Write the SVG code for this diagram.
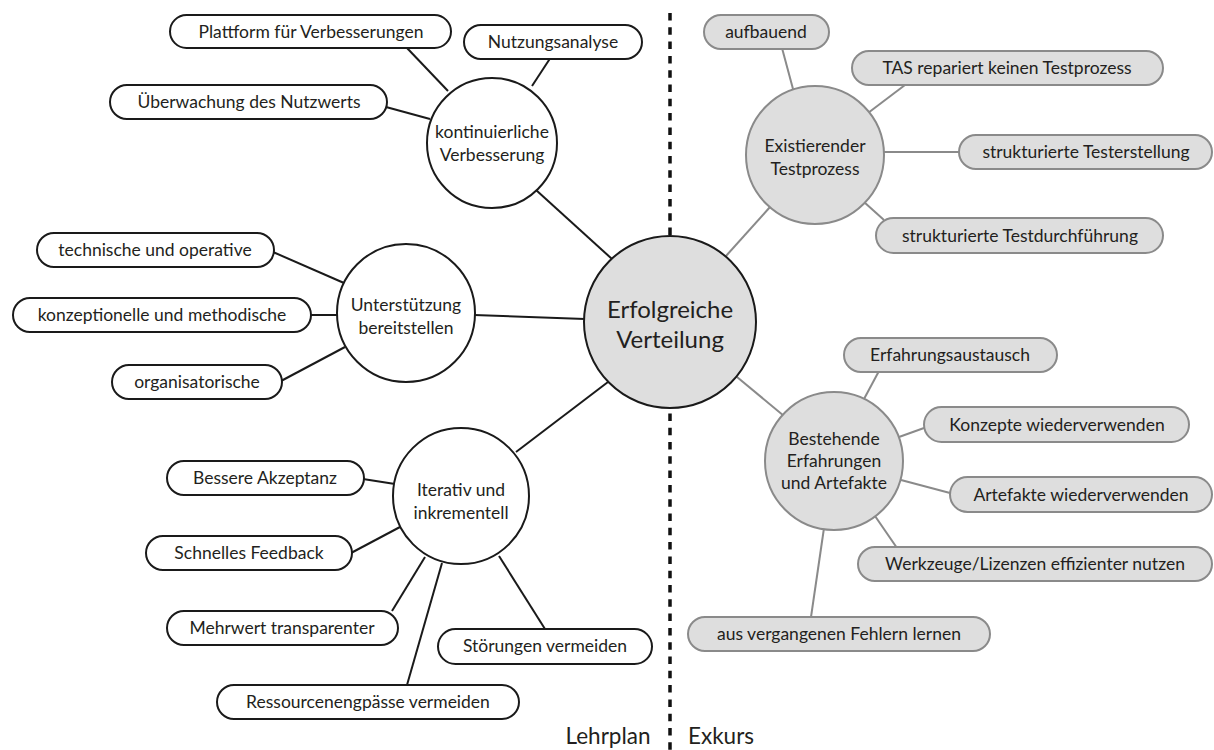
<svg xmlns="http://www.w3.org/2000/svg" width="1214" height="750" viewBox="0 0 1214 750">
<style>
.l{fill:#fff;stroke:#1a1a1a;stroke-width:2}
.r{fill:#dedede;stroke:#8a8a8a;stroke-width:2}
.c{fill:#dedede;stroke:#1a1a1a;stroke-width:2}
text{font-family:Lato,"Open Sans",sans-serif;font-size:17.5px;fill:#231f20;text-anchor:middle}
.big{font-size:24px}
.lab{font-size:22.5px}
.cl line{stroke:#1a1a1a;stroke-width:2}
.cr line{stroke:#8a8a8a;stroke-width:2}
</style>
<rect width="1214" height="750" fill="#fff"/>
<line x1="670" y1="13" x2="670" y2="750" stroke="#111" stroke-width="3.5" stroke-dasharray="7.5 6.8"/>
<g id="connectors">
<g class="cl">
<line x1="407" y1="48" x2="448" y2="91"/>
<line x1="551" y1="57" x2="532" y2="86"/>
<line x1="386" y1="107" x2="430" y2="119"/>
<line x1="536" y1="190" x2="612" y2="259"/>
<line x1="273" y1="252" x2="344" y2="283"/>
<line x1="311" y1="315" x2="338" y2="315"/>
<line x1="281" y1="381" x2="345" y2="347"/>
<line x1="474" y1="315" x2="585" y2="319"/>
<line x1="516" y1="452" x2="608" y2="382"/>
<line x1="363" y1="479" x2="395" y2="484"/>
<line x1="351" y1="553" x2="400" y2="527"/>
<line x1="392" y1="611" x2="425" y2="557"/>
<line x1="407" y1="685" x2="442" y2="563"/>
<line x1="545" y1="629" x2="499" y2="556"/>
</g>
<g class="cr">
<line x1="782" y1="48" x2="793" y2="89"/>
<line x1="905" y1="85" x2="868" y2="113"/>
<line x1="959" y1="152" x2="882" y2="152"/>
<line x1="884" y1="220" x2="864" y2="202"/>
<line x1="726" y1="256" x2="770" y2="207"/>
<line x1="879" y1="371" x2="864" y2="399"/>
<line x1="924" y1="428" x2="899" y2="437"/>
<line x1="950" y1="493" x2="901" y2="480"/>
<line x1="897" y1="548" x2="875" y2="516"/>
<line x1="811" y1="617" x2="824" y2="528"/>
<line x1="737" y1="377" x2="784" y2="416"/>
</g>
</g>
<g id="center"><circle class="c" cx="670" cy="322" r="86"/><text class="big" x="670" y="318">Erfolgreiche</text><text class="big" x="670" y="348">Verteilung</text></g>
<g id="kontinuierliche"><circle class="l" cx="492" cy="143" r="65"/><text x="492" y="138">kontinuierliche</text><text x="492" y="161">Verbesserung</text></g>
<g id="plattform"><rect class="l" x="170" y="15" width="281" height="33" rx="16.5"/><text x="311" y="38">Plattform für Verbesserungen</text></g>
<g id="nutzungsanalyse"><rect class="l" x="464" y="25" width="178" height="34" rx="17"/><text x="553" y="48">Nutzungsanalyse</text></g>
<g id="ueberwachung"><rect class="l" x="110" y="85" width="277" height="34" rx="17"/><text x="249" y="108">Überwachung des Nutzwerts</text></g>
<g id="unterstuetzung"><circle class="l" cx="406" cy="313" r="69"/><text x="406" y="311">Unterstützung</text><text x="406" y="334">bereitstellen</text></g>
<g id="technische"><rect class="l" x="37" y="233" width="237" height="34" rx="17"/><text x="155" y="256">technische und operative</text></g>
<g id="konzeptionelle"><rect class="l" x="13" y="298" width="298" height="34" rx="17"/><text x="162" y="321">konzeptionelle und methodische</text></g>
<g id="organisatorische"><rect class="l" x="112" y="365" width="170" height="34" rx="17"/><text x="197" y="388">organisatorische</text></g>
<g id="iterativ"><circle class="l" cx="461" cy="496" r="68"/><text x="461" y="496">Iterativ und</text><text x="461" y="519">inkrementell</text></g>
<g id="bessere"><rect class="l" x="167" y="461" width="197" height="34" rx="17"/><text x="265" y="484">Bessere Akzeptanz</text></g>
<g id="schnelles"><rect class="l" x="146" y="536" width="206" height="34" rx="17"/><text x="249" y="559">Schnelles Feedback</text></g>
<g id="mehrwert"><rect class="l" x="167" y="611" width="231" height="34" rx="17"/><text x="282" y="634">Mehrwert transparenter</text></g>
<g id="stoerungen"><rect class="l" x="438" y="629" width="214" height="35" rx="17.5"/><text x="545" y="652">Störungen vermeiden</text></g>
<g id="ressourcen"><rect class="l" x="217" y="685" width="302" height="34" rx="17"/><text x="368" y="708">Ressourcenengpässe vermeiden</text></g>
<g id="existierender"><circle class="r" cx="815" cy="155" r="69"/><text x="815" y="152">Existierender</text><text x="815" y="175">Testprozess</text></g>
<g id="aufbauend"><rect class="r" x="704" y="15" width="125" height="34" rx="17"/><text x="766" y="38">aufbauend</text></g>
<g id="tas"><rect class="r" x="852" y="51" width="311" height="34" rx="17"/><text x="1007" y="74">TAS repariert keinen Testprozess</text></g>
<g id="testerstellung"><rect class="r" x="959" y="135" width="253" height="34" rx="17"/><text x="1086" y="158">strukturierte Testerstellung</text></g>
<g id="testdurchfuehrung"><rect class="r" x="876" y="218" width="287" height="35" rx="17.5"/><text x="1020" y="242">strukturierte Testdurchführung</text></g>
<g id="bestehende"><circle class="r" cx="834" cy="461" r="69"/><text x="834" y="445">Bestehende</text><text x="834" y="467">Erfahrungen</text><text x="834" y="489">und Artefakte</text></g>
<g id="erfahrungsaustausch"><rect class="r" x="844" y="338" width="213" height="34" rx="17"/><text x="950" y="361">Erfahrungsaustausch</text></g>
<g id="konzepte"><rect class="r" x="924" y="407" width="265" height="35" rx="17.5"/><text x="1057" y="431">Konzepte wiederverwenden</text></g>
<g id="artefakte"><rect class="r" x="950" y="477" width="262" height="35" rx="17.5"/><text x="1081" y="501">Artefakte wiederverwenden</text></g>
<g id="werkzeuge"><rect class="r" x="858" y="547" width="354" height="34" rx="17"/><text x="1035" y="570">Werkzeuge/Lizenzen effizienter nutzen</text></g>
<g id="fehler"><rect class="r" x="688" y="617" width="302" height="34" rx="17"/><text x="839" y="640">aus vergangenen Fehlern lernen</text></g>
<g id="labels"><text class="lab" x="608" y="744">Lehrplan</text><text class="lab" x="721" y="744">Exkurs</text></g>
</svg>
